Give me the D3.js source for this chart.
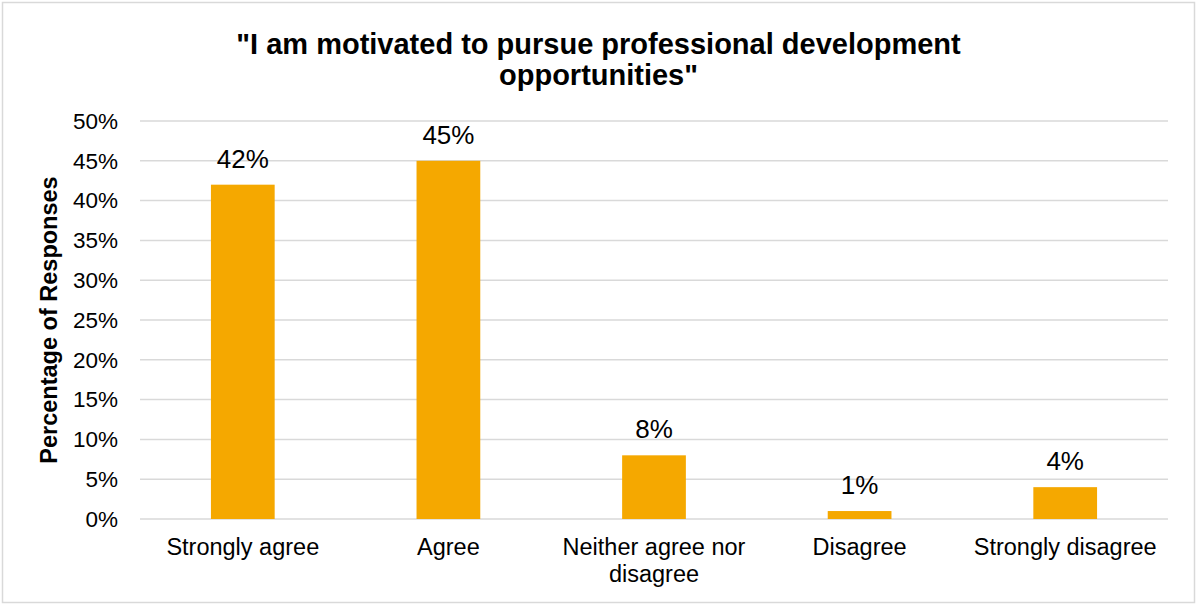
<!DOCTYPE html>
<html>
<head>
<meta charset="utf-8">
<script src="https://cdn.jsdelivr.net/npm/d3@7"></script>
<style>
  html, body { margin: 0; padding: 0; background: #fff; }
  svg { display: block; font-family: "Liberation Sans", Arial, sans-serif; }
</style>
</head>
<body>
<svg id="chart" width="1197" height="605"></svg>
<script>
// Survey responses (percent of respondents)
const categories = ["Strongly agree", "Agree", "Neither agree nor disagree", "Disagree", "Strongly disagree"];
const values = [42, 45, 8, 1, 4];
const yTicks = [0, 5, 10, 15, 20, 25, 30, 35, 40, 45, 50];
const titleLines = ["\"I am motivated to pursue professional development", "opportunities\""];
const yAxisTitle = "Percentage of Responses";

const W = 1197, H = 605;
const margin = { top: 121, right: 29, bottom: 86, left: 140 };
const svg = d3.select("#chart");

// outer frame
svg.append("rect")
  .attr("x", 2.5).attr("y", 2.5)
  .attr("width", W - 5).attr("height", H - 5)
  .attr("fill", "#fff").attr("stroke", "#d9d9d9").attr("stroke-width", 1.5);

const x = d3.scaleBand()
  .domain(categories)
  .range([margin.left, W - margin.right])
  .paddingInner(0.69).paddingOuter(0.345);

const y = d3.scaleLinear()
  .domain([0, 50])
  .range([H - margin.bottom, margin.top]);

// horizontal gridlines
svg.append("g")
  .selectAll("line")
  .data(yTicks)
  .join("line")
  .attr("x1", margin.left).attr("x2", W - margin.right)
  .attr("y1", d => y(d)).attr("y2", d => y(d))
  .attr("stroke", "#d9d9d9").attr("stroke-width", 1.5);

// y axis labels
const yAxis = d3.axisLeft(y).tickValues(yTicks).tickFormat(d => d + "%").tickSize(0).tickPadding(22);
const gy = svg.append("g").attr("transform", `translate(${margin.left},0)`).call(yAxis);
gy.select(".domain").remove();
gy.selectAll("text").attr("font-size", 22.5).attr("fill", "#000").attr("font-family", "Liberation Sans, Arial, sans-serif");

// bars
svg.append("g")
  .selectAll("rect")
  .data(values)
  .join("rect")
  .attr("x", (d, i) => x(categories[i]))
  .attr("y", d => y(d))
  .attr("width", x.bandwidth())
  .attr("height", d => y(0) - y(d))
  .attr("fill", "#f5a800");

// value labels
svg.append("g")
  .selectAll("text")
  .data(values)
  .join("text")
  .attr("x", (d, i) => x(categories[i]) + x.bandwidth() / 2)
  .attr("y", d => y(d) - 17)
  .attr("text-anchor", "middle")
  .attr("font-size", 26)
  .attr("fill", "#000")
  .text(d => d + "%");

// category labels (wrapped where needed)
const wrapLines = { "Neither agree nor disagree": ["Neither agree nor", "disagree"] };
const xLabels = svg.append("g")
  .selectAll("text")
  .data(categories)
  .join("text")
  .attr("x", d => x(d) + x.bandwidth() / 2)
  .attr("y", 555)
  .attr("text-anchor", "middle")
  .attr("font-size", 23.5)
  .attr("fill", "#000");
xLabels.each(function (d) {
  const lines = wrapLines[d] || [d];
  d3.select(this).selectAll("tspan")
    .data(lines)
    .join("tspan")
    .attr("x", x(d) + x.bandwidth() / 2)
    .attr("dy", (l, i) => i === 0 ? 0 : 27)
    .text(l => l);
});

// y axis title
svg.append("text")
  .attr("transform", `translate(57, ${(margin.top + H - margin.bottom) / 2}) rotate(-90)`)
  .attr("text-anchor", "middle")
  .attr("font-size", 23.5)
  .attr("font-weight", "bold")
  .attr("fill", "#000")
  .text(yAxisTitle);

// chart title
svg.append("g")
  .selectAll("text")
  .data(titleLines)
  .join("text")
  .attr("x", W / 2)
  .attr("y", (d, i) => 54 + i * 31)
  .attr("text-anchor", "middle")
  .attr("font-size", 29)
  .attr("font-weight", "bold")
  .attr("fill", "#000")
  .text(d => d);
</script>
</body>
</html>
